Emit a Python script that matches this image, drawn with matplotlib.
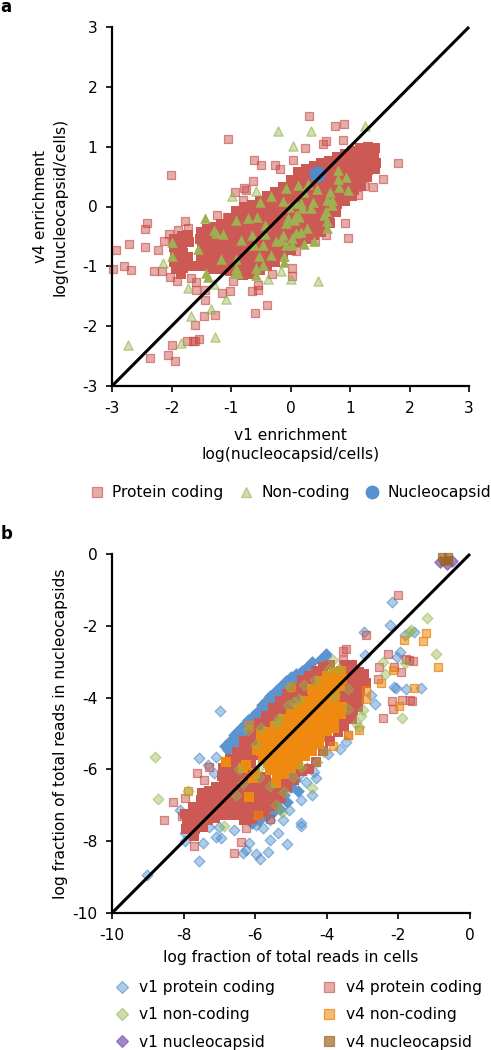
import numpy as np
import matplotlib
matplotlib.use('Agg')
import matplotlib.pyplot as plt
from matplotlib.lines import Line2D

plt.rcParams['axes.unicode_minus'] = False
plt.rcParams['font.family'] = 'DejaVu Sans'
FS = 11.2

# ---------- panel a data (v1 enrichment, v4 enrichment) ----------
a_coding_out = [(0.31,1.51),(0.74,1.35),(0.90,1.38),(-1.05,1.12),(0.60,1.10),(0.55,1.04),(0.88,1.11),(0.25,0.97),
 (-2.01,0.52),(1.81,0.72),(1.55,0.46),(-0.62,0.78),(-0.50,0.69),(-0.26,0.69),(-0.18,0.63),(0.04,0.77),(-0.63,0.43),
 (-0.94,0.25),(-0.78,0.31),(-0.75,0.28),(-0.79,0.11),(-2.42,-0.27),(-2.44,-0.38),(-1.78,-0.25),(-1.73,-0.36),
 (-1.89,-0.40),(-2.05,-0.46),(-2.13,-0.57),(-2.71,-0.62),(-2.93,-0.73),(-2.44,-0.67),(-2.23,-0.72),(-2.99,-1.04),
 (-2.80,-1.00),(-2.68,-1.06),(-2.30,-1.08),(-2.16,-1.08),(-2.03,-1.18),(-1.91,-1.24),(-1.67,-1.19),(-1.59,-1.26),
 (-1.59,-1.39),(-1.44,-1.40),(-1.44,-1.57),(-1.15,-1.45),(-1.02,-1.41),(-0.65,-1.42),(-0.54,-1.40),(-0.55,-1.31),
 (-0.40,-1.64),(-0.59,-1.78),(-1.27,-1.82),(-1.45,-1.83),(-1.60,-1.98),(-1.99,-2.32),(-2.06,-2.48),(-2.36,-2.54),
 (-1.94,-2.58),(-1.74,-2.24),(-1.64,-2.24),(-1.61,-2.25),(-1.54,-2.22),(0.91,-0.27),(0.96,-0.53),(0.77,-0.09),
 (1.13,0.19),(1.39,0.33),(1.24,0.34),(0.59,-0.47),(0.42,-0.58),(0.09,-0.75),(0.02,-1.03),(0.02,-1.16),(-0.31,-1.12),
 (-0.97,-1.25),(-1.23,-0.14),(-1.06,-0.17)]
a_coding_band = [
 (-1.95,-0.55),(-1.96,-0.68),(-1.94,-0.80),(-1.95,-0.93),(-1.93,-1.05),
 (-1.82,-0.50),(-1.83,-0.63),(-1.81,-0.77),(-1.82,-0.90),(-1.80,-1.03),(-1.84,-1.12),
 (-1.72,-0.47),(-1.70,-0.60),(-1.73,-0.85),(-1.71,-1.00),
 (-1.50,-0.42),(-1.52,-0.55),(-1.49,-0.68),(-1.51,-0.80),(-1.50,-0.93),(-1.53,-1.00),
 (-1.40,-0.38),(-1.42,-0.50),(-1.39,-0.63),(-1.41,-0.76),(-1.43,-0.90),(-1.40,-1.00),
 (-1.30,-0.35),(-1.28,-0.48),(-1.31,-0.60),(-1.29,-0.73),(-1.30,-0.86),(-1.27,-0.98),(-1.31,-1.05),
 (-1.17,-0.30),(-1.16,-0.43),(-1.18,-0.56),(-1.15,-0.70),(-1.17,-0.83),(-1.19,-0.95),(-1.16,-1.05),
 (-1.04,-0.20),(-1.05,-0.33),(-1.03,-0.46),(-1.04,-0.60),(-1.06,-0.72),(-1.03,-0.85),(-1.05,-0.97),(-1.02,-1.08),
 (-0.91,-0.08),(-0.92,-0.20),(-0.90,-0.33),(-0.91,-0.46),(-0.93,-0.60),(-0.90,-0.72),(-0.92,-0.85),(-0.89,-0.97),(-0.91,-1.10),
 (-0.78,0.00),(-0.79,-0.13),(-0.77,-0.26),(-0.78,-0.40),(-0.80,-0.52),(-0.76,-0.65),(-0.79,-0.78),(-0.77,-0.90),(-0.78,-1.03),(-0.80,-1.15),
 (-0.65,0.03),(-0.66,-0.10),(-0.64,-0.23),(-0.65,-0.36),(-0.63,-0.49),(-0.66,-0.62),(-0.65,-0.75),(-0.67,-0.88),(-0.64,-1.00),(-0.65,-1.13),
 (-0.52,0.10),(-0.53,-0.03),(-0.51,-0.16),(-0.52,-0.29),(-0.54,-0.42),(-0.50,-0.55),(-0.52,-0.68),(-0.53,-0.81),(-0.51,-0.94),(-0.52,-1.06),
 (-0.39,0.18),(-0.40,0.05),(-0.38,-0.08),(-0.39,-0.21),(-0.41,-0.34),(-0.37,-0.47),(-0.39,-0.60),(-0.40,-0.73),(-0.38,-0.86),(-0.39,-1.00),
 (-0.26,0.25),(-0.27,0.12),(-0.25,-0.01),(-0.26,-0.14),(-0.28,-0.27),(-0.24,-0.40),(-0.26,-0.53),(-0.27,-0.66),(-0.25,-0.79),(-0.26,-0.92),
 (-0.13,0.33),(-0.14,0.20),(-0.12,0.07),(-0.13,-0.06),(-0.15,-0.19),(-0.11,-0.32),(-0.13,-0.45),(-0.14,-0.58),(-0.12,-0.71),(-0.13,-0.84),
 (0.00,0.45),(-0.01,0.32),(0.01,0.19),(0.00,0.06),(-0.02,-0.07),(0.02,-0.20),(0.00,-0.33),(-0.01,-0.46),(0.01,-0.59),(0.00,-0.72),
 (0.13,0.58),(0.12,0.45),(0.14,0.32),(0.13,0.19),(0.11,0.06),(0.15,-0.07),(0.13,-0.20),(0.12,-0.33),(0.14,-0.46),(0.13,-0.60),
 (0.26,0.62),(0.25,0.49),(0.27,0.36),(0.26,0.23),(0.24,0.10),(0.28,-0.03),(0.26,-0.16),(0.25,-0.29),(0.27,-0.42),(0.26,-0.55),
 (0.39,0.68),(0.38,0.55),(0.40,0.42),(0.39,0.29),(0.37,0.16),(0.41,0.03),(0.39,-0.10),(0.38,-0.23),(0.40,-0.36),(0.39,-0.47),
 (0.52,0.72),(0.51,0.59),(0.53,0.46),(0.52,0.33),(0.50,0.20),(0.54,0.07),(0.52,-0.06),(0.51,-0.19),(0.53,-0.32),(0.52,-0.42),
 (0.65,0.76),(0.64,0.63),(0.66,0.50),(0.65,0.37),(0.63,0.24),(0.67,0.11),(0.65,-0.02),(0.64,-0.15),(0.66,-0.28),
 (0.78,0.82),(0.77,0.69),(0.79,0.56),(0.78,0.43),(0.76,0.30),(0.80,0.17),(0.78,0.04),(0.77,-0.09),
 (0.91,0.88),(0.90,0.75),(0.92,0.62),(0.91,0.49),(0.89,0.36),(0.93,0.23),(0.91,0.10),
 (1.04,0.93),(1.03,0.80),(1.05,0.67),(1.04,0.54),(1.02,0.41),(1.06,0.28),(1.04,0.18),
 (1.17,0.97),(1.16,0.84),(1.18,0.71),(1.17,0.58),(1.15,0.45),(1.19,0.35),
 (1.30,1.00),(1.29,0.87),(1.31,0.74),(1.30,0.61),(1.28,0.50),
 (1.42,0.98),(1.41,0.85),(1.43,0.72),(1.42,0.62)]
a_noncoding_out = [(-0.21,1.26),(0.34,1.26),(1.25,1.35),(0.05,1.01),(-0.58,0.26),(-0.99,0.18),(-2.15,-0.94),(-1.73,-1.37),
 (-1.08,-1.54),(-1.34,-1.71),(-1.67,-1.83),(-1.84,-2.28),(-1.27,-2.18),(-2.73,-2.32),(0.46,-1.24),(0.01,-1.21),(-0.37,-1.22),
 (-0.16,-1.08),(-1.29,-1.29)]
a_noncoding_band = [(0.79,0.61),(0.79,0.46),(0.94,0.49),(0.13,0.36),(0.30,0.38),
 (-0.08,0.31),(0.44,0.29),(0.82,0.33),(0.96,0.27),(0.23,0.25),(0.66,0.25),(-0.32,0.17),(-0.51,0.07),
 (-0.13,0.09),(0.70,0.11),(0.62,0.11),(0.70,0.03),(0.09,0.06),(0.17,0.06),(0.37,0.08),(-0.02,0.00),(0.20,-0.03),(0.34,-0.03),
 (0.59,-0.08),(0.56,-0.14),(-1.44,-0.19),(-0.91,-0.23),(-0.71,-0.19),(-0.56,-0.17),(-0.05,-0.19),(0.09,-0.14),(0.15,-0.17),
 (0.06,-0.22),(-0.08,-0.28),(-0.43,-0.31),(0.62,-0.25),(0.62,-0.36),(0.28,-0.36),(-1.28,-0.39),(-1.25,-0.44),(-1.13,-0.46),
 (-0.65,-0.48),(-0.43,-0.46),(-0.13,-0.47),(0.09,-0.44),(0.17,-0.42),(0.03,-0.53),(-0.83,-0.56),(-0.61,-0.64),(-0.47,-0.64),
 (-0.25,-0.58),(-0.16,-0.56),(-0.08,-0.64),(0.03,-0.64),(0.40,-0.58),(0.23,-0.63),(-1.99,-0.60),(-1.56,-0.71),(-1.99,-0.82),
 (-1.17,-0.88),(-0.91,-0.88),(-0.53,-0.83),(-0.33,-0.81),(-0.11,-0.83),(-0.11,-0.92),(-0.91,-1.03),(-0.47,-0.97),
 (-0.58,-1.03),(-1.42,-1.11),(-0.94,-1.11),(-0.89,-1.11),(-0.58,-1.14),(-1.39,-1.18)]
a_nucleocapsid = [(0.45,0.55)]

# ---------- panel b data (log fraction cells, log fraction nucleocapsids) ----------
b_v1_coding_out = [(-9.02,-8.94),(-7.56,-8.56),(-5.86,-8.49),(-5.98,-8.36),(-5.65,-8.31),(-6.35,-8.33),(-6.27,-8.24),(-5.12,-8.07),
 (-5.35,-7.78),(-5.59,-7.96),(-6.16,-8.04),(-7.46,-8.06),(-7.97,-7.78),(-7.97,-7.99),(-7.09,-7.89),(-6.95,-7.92),(-4.72,-7.48),
 (-4.72,-7.59),(-5.23,-7.41),(-8.09,-7.13),(-6.97,-4.38),(-7.56,-5.69),(-7.32,-5.88),(-7.09,-5.65),(-7.14,-6.11),(-2.17,-1.34),
 (-2.97,-2.18),(-2.24,-1.99),(-1.82,-2.27),(-1.56,-2.16),(-1.95,-2.73),(-2.03,-2.87),(-2.94,-2.80),
 (-2.12,-3.70),(-2.07,-3.73),(-1.79,-3.75),(-1.38,-3.73),(-2.65,-4.17),(-2.77,-3.94),
 (-3.62,-5.44),(-3.47,-5.23),(-3.98,-5.56),(-4.35,-6.06),(-4.30,-6.25),(-4.54,-5.97),(-4.77,-6.16),(-4.58,-6.34),(-4.40,-6.71),
 (-4.72,-6.85),(-5.05,-7.13),(-5.60,-7.41),(-5.79,-7.64),(-5.98,-7.55),
 (-7.00,-7.60),(-7.30,-7.60),(-7.60,-7.50),(-6.60,-7.70)]
b_v1_coding_band = [(-4.02,-2.78),(-4.40,-3.01),(-4.77,-3.33),(-5.00,-3.43),(-5.23,-3.66),
 (-6.85,-5.35),(-6.70,-5.20),(-6.60,-5.05),(-6.50,-4.95),(-6.40,-4.85),(-6.30,-4.75),(-6.20,-4.62),(-6.05,-4.50),(-5.95,-4.40),
 (-5.80,-4.20),(-5.70,-4.10),(-5.60,-3.95),(-5.50,-3.90),(-5.40,-3.80),(-5.30,-3.70),(-5.15,-3.55),(-4.85,-3.35),
 (-4.70,-3.25),(-4.55,-3.15),(-4.20,-2.95),(-4.05,-2.85),
 (-6.75,-5.45),(-6.60,-5.30),(-6.45,-5.10),(-6.30,-4.95),(-6.15,-4.80),(-6.00,-4.62),(-5.85,-4.45),(-5.70,-4.25),(-5.55,-4.10),
 (-5.40,-3.95),(-5.25,-3.85),(-5.10,-3.70),(-4.95,-3.55),(-4.80,-3.45),
 (-5.90,-7.40),(-5.70,-7.30),(-5.50,-7.20),(-5.30,-7.10),(-5.10,-6.90),(-5.20,-6.70),(-5.00,-6.50),(-4.90,-6.30),(-4.80,-6.00),
 (-5.00,-6.20),(-5.40,-6.90),(-4.80,-6.60),(-5.60,-7.10),(-6.10,-7.50)]
b_v4_coding_out = [(-2.00,-1.14),(-2.91,-2.27),(-3.47,-2.64),(-3.56,-2.71),(-3.54,-2.94),(-2.28,-2.78),(-2.54,-3.15),(-2.58,-3.49),
 (-2.12,-3.15),(-1.94,-3.29),(-1.70,-2.94),(-1.59,-2.98),(-1.80,-2.92),(-2.17,-4.10),(-2.15,-4.32),(-1.90,-4.07),(-1.61,-4.10),(-1.68,-4.08),
 (-2.42,-4.58),(-3.42,-5.03),(-7.63,-6.10),(-7.43,-6.30),(-7.95,-6.81),(-8.30,-6.90),(-8.55,-7.42),(-8.05,-7.31),(-6.39,-8.03),
 (-7.72,-8.13),(-6.58,-8.33),(-7.30,-5.93),(-6.27,-7.64),(-5.58,-7.38)]
b_v4_coding_band = [
 (-7.95,-7.25),(-7.90,-7.45),(-7.92,-7.65),(-7.75,-7.05),(-7.70,-7.25),(-7.72,-7.45),(-7.68,-7.65),(-7.70,-7.85),
 (-7.50,-6.65),(-7.52,-6.85),(-7.48,-7.05),(-7.50,-7.25),(-7.53,-7.45),(-7.47,-7.60),
 (-7.30,-6.60),(-7.32,-6.80),(-7.28,-7.00),(-7.30,-7.20),(-7.33,-7.40),
 (-7.10,-6.50),(-7.12,-6.72),(-7.08,-6.92),(-7.10,-7.12),(-7.13,-7.35),
 (-6.90,-5.95),(-6.92,-6.17),(-6.88,-6.39),(-6.90,-6.61),(-6.93,-6.83),(-6.87,-7.05),(-6.90,-7.27),
 (-6.70,-5.72),(-6.72,-5.94),(-6.68,-6.16),(-6.70,-6.38),(-6.73,-6.60),(-6.67,-6.82),(-6.70,-7.04),(-6.72,-7.26),
 (-6.50,-5.52),(-6.52,-5.74),(-6.48,-5.96),(-6.50,-6.18),(-6.53,-6.40),(-6.47,-6.62),(-6.50,-6.84),(-6.52,-7.06),(-6.48,-7.28),
 (-6.30,-5.22),(-6.32,-5.44),(-6.28,-5.66),(-6.30,-5.88),(-6.33,-6.10),(-6.27,-6.32),(-6.30,-6.54),(-6.32,-6.76),(-6.28,-6.98),(-6.30,-7.20),(-6.32,-7.42),
 (-6.10,-4.95),(-6.12,-5.17),(-6.08,-5.39),(-6.10,-5.61),(-6.13,-5.83),(-6.07,-6.05),(-6.10,-6.27),(-6.12,-6.49),(-6.08,-6.71),(-6.10,-6.93),(-6.12,-7.15),(-6.08,-7.37),
 (-5.90,-4.72),(-5.92,-4.94),(-5.88,-5.16),(-5.90,-5.38),(-5.93,-5.60),(-5.87,-6.20),(-5.90,-6.42),(-5.92,-6.64),(-5.88,-6.86),(-5.90,-7.08),(-5.92,-7.28),
 (-5.70,-4.50),(-5.72,-4.72),(-5.68,-4.94),(-5.70,-6.30),(-5.72,-6.52),(-5.68,-6.74),(-5.70,-6.96),(-5.72,-7.18),
 (-5.50,-4.30),(-5.52,-4.52),(-5.48,-4.74),(-5.50,-6.40),(-5.52,-6.62),(-5.48,-6.84),(-5.50,-7.02),
 (-5.30,-4.10),(-5.32,-4.32),(-5.28,-4.54),(-5.30,-6.40),(-5.32,-6.62),(-5.28,-6.80),
 (-5.10,-3.90),(-5.12,-4.12),(-5.08,-4.34),(-5.10,-6.30),(-5.12,-6.50),
 (-4.90,-3.72),(-4.92,-3.94),(-4.88,-4.16),(-4.90,-6.10),(-4.92,-6.30),
 (-4.70,-3.52),(-4.72,-3.74),(-4.68,-3.96),(-4.70,-6.05),
 (-4.50,-3.40),(-4.52,-3.62),(-4.48,-3.84),(-4.50,-6.00),
 (-4.30,-3.25),(-4.32,-3.47),(-4.28,-3.69),(-4.30,-5.80),
 (-4.10,-3.15),(-4.12,-3.37),(-4.08,-3.59),(-4.10,-5.50),
 (-3.90,-3.10),(-3.92,-3.55),(-3.88,-3.80),(-3.90,-4.60),(-3.92,-5.20),
 (-3.70,-3.30),(-3.72,-3.95),(-3.68,-4.20),(-3.70,-4.45),(-3.72,-4.70),(-3.68,-4.95),
 (-3.50,-3.10),(-3.52,-3.35),(-3.48,-3.60),(-3.50,-3.85),(-3.52,-4.10),(-3.48,-4.35),(-3.50,-4.60),(-3.52,-4.80),
 (-3.30,-3.10),(-3.32,-3.35),(-3.28,-3.60),(-3.30,-3.85),(-3.32,-4.10),(-3.28,-4.35),(-3.30,-4.60),
 (-3.10,-3.30),(-3.12,-3.55),(-3.08,-3.80),(-3.10,-4.05),(-3.12,-4.25),(-2.95,-3.35),(-2.90,-3.60)]
b_v4_noncoding_out = [(-1.22,-2.20),(-1.84,-2.39),(-1.30,-2.41),(-0.90,-3.15),(-2.15,-3.22),(-2.49,-3.58),(-1.56,-3.73),(-1.98,-4.24),
 (-2.91,-3.80),(-2.91,-4.03),(-3.09,-4.91),(-3.42,-5.05),(-3.84,-5.35),(-6.16,-4.77),(-7.88,-6.59),
 (-5.91,-7.27),(-5.00,-3.70)]
b_v4_noncoding_band = [(-6.81,-5.79),(-6.16,-6.76),(-6.25,-5.88),(-6.35,-5.97),(-6.07,-6.25),(-5.42,-6.39),
 (-5.85,-5.05),(-5.80,-5.28),(-5.83,-5.50),(-5.78,-5.72),(-5.65,-4.95),(-5.60,-5.15),(-5.62,-5.37),(-5.58,-5.59),(-5.63,-5.81),(-5.60,-6.03),
 (-5.45,-4.80),(-5.42,-5.02),(-5.40,-5.24),(-5.43,-5.46),(-5.38,-5.68),(-5.41,-5.90),(-5.40,-6.12),
 (-5.22,-4.60),(-5.20,-4.82),(-5.18,-5.04),(-5.22,-5.26),(-5.17,-5.48),(-5.20,-5.70),(-5.21,-5.92),(-5.19,-6.14),
 (-5.00,-4.45),(-4.98,-4.67),(-5.02,-4.89),(-4.97,-5.11),(-5.00,-5.33),(-5.01,-5.55),(-4.99,-5.77),(-5.00,-5.97),
 (-4.80,-4.30),(-4.78,-4.52),(-4.82,-4.74),(-4.77,-4.96),(-4.80,-5.18),(-4.81,-5.40),(-4.79,-5.62),(-4.80,-5.84),
 (-4.60,-4.10),(-4.58,-4.32),(-4.62,-4.54),(-4.57,-4.76),(-4.60,-4.98),(-4.61,-5.20),(-4.59,-5.42),(-4.60,-5.64),
 (-4.40,-3.75),(-4.38,-3.97),(-4.42,-4.19),(-4.37,-4.41),(-4.40,-4.63),(-4.41,-4.85),(-4.39,-5.07),(-4.40,-5.29),(-4.42,-5.50),
 (-4.20,-3.55),(-4.18,-3.77),(-4.22,-3.99),(-4.17,-4.21),(-4.20,-4.43),(-4.21,-4.65),(-4.19,-4.87),(-4.20,-5.09),(-4.22,-5.30),
 (-4.00,-3.40),(-3.98,-3.62),(-4.02,-3.84),(-3.97,-4.06),(-4.00,-4.28),(-4.01,-4.50),(-3.99,-4.72),(-4.00,-4.94),
 (-3.80,-3.30),(-3.78,-3.52),(-3.82,-3.74),(-3.77,-3.96),(-3.80,-4.18),(-3.81,-4.40),(-3.79,-4.62),(-3.80,-4.84),
 (-3.60,-3.25),(-3.58,-3.47),(-3.62,-3.69),(-3.57,-4.25),(-3.60,-4.47),(-5.95,-5.45),(-6.00,-6.10)]
b_v1_noncoding = [(-8.80,-5.66),(-8.71,-6.83),(-7.88,-6.59),(-6.86,-7.57),(-1.19,-1.79),(-1.65,-2.13),(-1.70,-2.16),(-0.96,-2.78),(-1.91,-4.58),
 (-2.42,-3.01),(-2.37,-3.33),(-1.81,-3.03),(-3.84,-2.96),(-3.93,-3.19),(-3.65,-3.19),(-4.32,-3.52),(-4.65,-3.64),(-5.03,-3.70),
 (-3.42,-3.75),(-4.77,-4.03),(-4.91,-4.12),(-5.07,-4.21),(-3.79,-3.94),(-3.42,-4.31),(-3.00,-4.35),(-3.05,-4.51),(-5.33,-4.58),
 (-5.42,-4.72),(-5.84,-4.84),(-6.19,-4.91),(-5.98,-5.28),(-4.26,-5.79),(-5.86,-5.93),(-6.44,-5.99),(-5.88,-6.20),(-6.33,-6.39),
 (-5.60,-6.45),(-4.95,-6.20),(-4.72,-5.93),(-5.19,-6.62),(-6.55,-6.71),(-4.40,-6.53),(-5.42,-6.99),(-5.25,-7.18),(-4.07,-5.51),
 (-3.09,-4.81),(-3.19,-4.72)]
b_v1_nucleocapsid = [(-0.85,-0.22),(-0.65,-0.27),(-0.50,-0.20)]
b_v4_nucleocapsid = [(-0.78,-0.08),(-0.62,-0.08),(-0.72,-0.20),(-0.62,-0.18)]

# ---------- labels ----------
a_ticks = [-3, -2, -1, 0, 1, 2, 3]
b_ticks = [-10, -8, -6, -4, -2, 0]
a_xlabel = 'v1 enrichment\nlog(nucleocapsid/cells)'
a_ylabel = 'v4 enrichment\nlog(nucleocapsid/cells)'
b_xlabel = 'log fraction of total reads in cells'
b_ylabel = 'log fraction of total reads in nucleocapsids'

RED = (0.78, 0.28, 0.25)
RED_DENSE = (0.80, 0.35, 0.33)
GREEN = (0.58, 0.70, 0.30)
GREEN_DENSE = (0.62, 0.69, 0.32)
BLUE = (0.30, 0.55, 0.80)
BLUE_DENSE = (0.36, 0.58, 0.81)
ORANGE = (0.93, 0.52, 0.03)
ORANGE_DENSE = (0.93, 0.54, 0.06)
PURPLE = (0.48, 0.33, 0.68)
BROWN = (0.62, 0.40, 0.15)
W, H = 491, 1050

def handle(marker, c, size, a=0.45, ea=0.6):
    return Line2D([], [], ls='none', marker=marker, ms=size, mfc=(*c, a), mec=(*c, ea), mew=0.9)

def plot_pts(ax, pts, marker, c, s, a=0.45, ea=0.6, z=3):
    arr = np.array(pts)
    ax.scatter(arr[:, 0], arr[:, 1], marker=marker, s=s, zorder=z, clip_on=False,
               facecolor=(*c, a), edgecolor=(*c, ea), linewidths=0.9)

def plot_dense(ax, pts, marker, c, s, z=3):
    arr = np.array(pts)
    ax.scatter(arr[:, 0], arr[:, 1], marker=marker, s=s, zorder=z, color=c, linewidths=0)

def frame(ax, ticks):
    ax.set_xlim(ticks[0], ticks[-1]); ax.set_ylim(ticks[0], ticks[-1])
    ax.set_xticks(ticks); ax.set_yticks(ticks)
    ax.patch.set_alpha(0)
    for s in ('top', 'right'):
        ax.spines[s].set_visible(False)
    for s in ('left', 'bottom'):
        ax.spines[s].set_linewidth(1.6)
        ax.spines[s].set_zorder(8)
    ax.tick_params(width=1.2, length=4.5, labelsize=FS, pad=6)
    ax.plot(ticks[0:1] + ticks[-1:], ticks[0:1] + ticks[-1:], color='black', lw=2.2, zorder=6, solid_capstyle='butt', clip_on=False)

fig = plt.figure(figsize=(W / 100, H / 100), dpi=100)
ax1 = fig.add_axes([112 / W, 1 - 386 / H, 357 / W, 359 / H])
ax2 = fig.add_axes([112 / W, 1 - 913 / H, 358 / W, 359 / H])
frame(ax1, a_ticks)
frame(ax2, b_ticks)

# panel a
plot_pts(ax1, a_coding_out, 's', RED, 34, z=3)
plot_dense(ax1, a_coding_band, 's', RED_DENSE, 48, z=3.1)
plot_pts(ax1, a_noncoding_out, '^', GREEN, 44, a=0.42, ea=0.65, z=4)
plot_dense(ax1, a_noncoding_band, '^', GREEN_DENSE, 58, z=4)
plot_pts(ax1, a_nucleocapsid, 'o', BLUE, 115, a=0.95, ea=0.95, z=5)
ax1.set_xlabel(a_xlabel, fontsize=FS, linespacing=1.36, va='center')
ax1.xaxis.set_label_coords(0.5, -0.164)
ax1.set_ylabel(a_ylabel, fontsize=FS, linespacing=1.36, va='center')
ax1.yaxis.set_label_coords(-0.174, 0.5)
fig.legend([handle('s', RED, 7), handle('^', GREEN, 7.5), handle('o', BLUE, 9, 0.95, 0.95)],
           ['Protein coding', 'Non-coding', 'Nucleocapsid'], ncols=3, frameon=False, fontsize=FS,
           loc='center left', bbox_to_anchor=(88 / W, 1 - 493 / H), borderpad=0, borderaxespad=0,
           handlelength=1.2, handletextpad=0.37, columnspacing=0.85)

# panel b
plot_pts(ax2, b_v1_coding_out, 'D', BLUE, 30, z=3)
plot_dense(ax2, b_v1_coding_band, 'D', BLUE_DENSE, 42, z=3.05)
plot_pts(ax2, b_v4_coding_out, 's', RED, 34, z=3.2)
plot_dense(ax2, b_v4_coding_band, 's', RED_DENSE, 48, z=3.2)
plot_pts(ax2, b_v4_noncoding_out, 's', ORANGE, 34, a=0.55, ea=0.75, z=3.4)
plot_dense(ax2, b_v4_noncoding_band, 's', ORANGE_DENSE, 48, z=3.4)
plot_pts(ax2, b_v1_noncoding, 'D', GREEN, 30, a=0.42, ea=0.5, z=3.6)
plot_pts(ax2, b_v1_nucleocapsid, 'D', PURPLE, 34, a=0.7, ea=0.7, z=3.7)
plot_pts(ax2, b_v4_nucleocapsid, 's', BROWN, 40, a=0.7, ea=0.7, z=3.8)
ax2.set_xlabel(b_xlabel, fontsize=FS, va='center')
ax2.xaxis.set_label_coords(0.5, -0.125)
ax2.set_ylabel(b_ylabel, fontsize=FS, va='center')
ax2.yaxis.set_label_coords(-0.145, 0.5)
b_handles = [handle('D', BLUE, 6), handle('D', GREEN, 6), handle('D', PURPLE, 6, 0.7, 0.7),
             handle('s', RED, 6.5), handle('s', ORANGE, 6.5, 0.55, 0.75), handle('s', BROWN, 7, 0.7, 0.7)]
b_names = ['v1 protein coding', 'v1 non-coding', 'v1 nucleocapsid',
           'v4 protein coding', 'v4 non-coding', 'v4 nucleocapsid']
fig.legend(b_handles, b_names, ncols=2, frameon=False, fontsize=FS, loc='upper left',
           bbox_to_anchor=(113 / W, 1 - 980 / H), borderpad=0, borderaxespad=0,
           handlelength=1.2, handletextpad=0.5, columnspacing=2.87, labelspacing=0.79)

fig.text(0.5 / W, 1 - 12 / H, 'a', fontsize=12, fontweight='bold', va='baseline', ha='left')
fig.text(0.5 / W, 1 - 539 / H, 'b', fontsize=12, fontweight='bold', va='baseline', ha='left')

fig.savefig('out.png', dpi=100, facecolor='white')
